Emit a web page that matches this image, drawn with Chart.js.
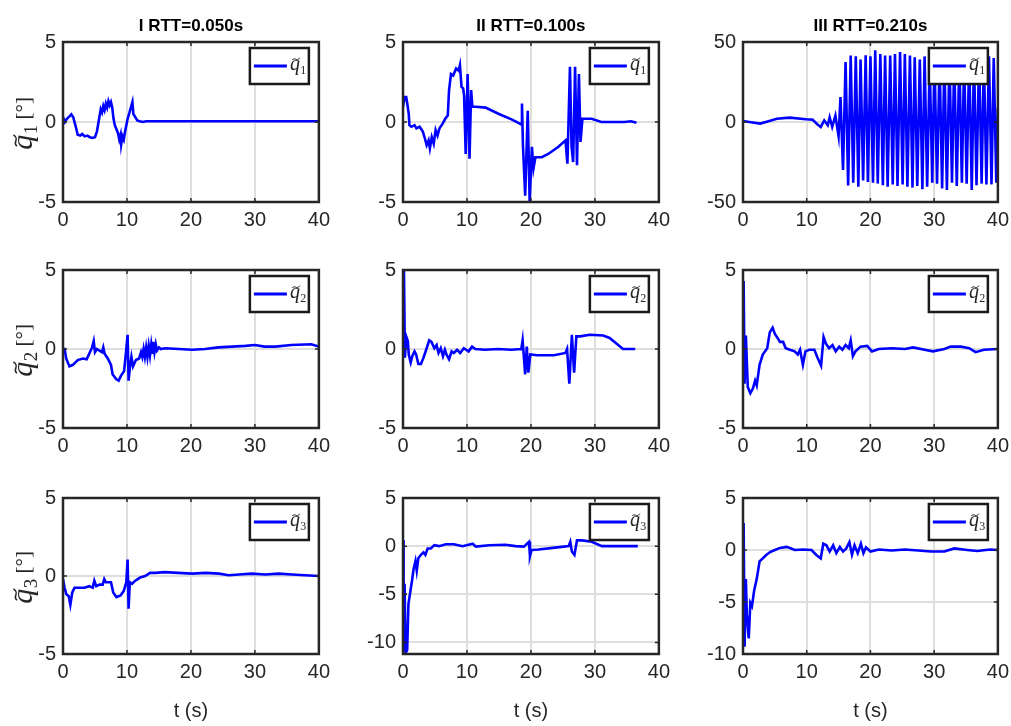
<!DOCTYPE html>
<html>
<head>
<meta charset="utf-8">
<script src="https://cdn.jsdelivr.net/npm/chart.js@4.4.1/dist/chart.umd.min.js"></script>
<style>
  body { margin: 0; background: #fff; }
  #wrap { position: relative; width: 1011px; height: 726px; overflow: hidden; }
  #wrap canvas { position: absolute; }
</style>
</head>
<body>
<div id="wrap"></div>
<script>
// column titles, one per RTT case
const titles = ['I RTT=0.050s', 'II RTT=0.100s', 'III RTT=0.210s'];
const xTicks = [0, 10, 20, 30, 40];
const yTicksSmall = [-5, 0, 5];
const yTicksBig = [-50, 0, 50];
const yTicksQ3 = [-10, -5, 0, 5];

// joint errors, [t (s), deg]
// RTT = 0.050 s
const q1_I = [[0,0.3],[0.3,0.0],[0.6,0.2],[1.0,0.35],[1.3,0.48],[1.6,0.3],[2.0,-0.3],[2.3,-0.8],[2.7,-0.85],[3.0,-0.75],[3.4,-0.9],[3.8,-0.85],[4.2,-0.95],[4.6,-1.0],[5.0,-0.95],[5.3,-0.6],[5.6,0.1],[5.9,0.8],[6.1,0.6],[6.3,1.0],[6.5,0.75],[6.7,1.15],[6.9,0.9],[7.1,1.3],[7.3,1.05],[7.5,1.25],[7.7,0.9],[7.9,0.2],[8.1,-0.2],[8.4,-0.5],[8.6,-0.7],[8.8,-1.1],[9.0,-0.8],[9.1,-1.4],[9.3,-0.9],[9.5,-1.1],[9.7,-0.6],[9.9,-0.2],[10.1,0.2],[10.4,0.6],[10.6,0.9],[10.85,1.25],[11.0,0.5],[11.3,0.3],[11.6,0.1],[12.0,0.05],[12.5,0.0],[13,0.05],[15,0.05],[20,0.05],[25,0.05],[30,0.05],[35,0.05],[40,0.05]];
const q2_I = [[0,0],[0.25,0],[0.5,-0.6],[1.0,-1.1],[1.55,-1.0],[2.3,-0.7],[3.1,-0.6],[3.7,-0.65],[4.1,-0.3],[4.55,0.1],[4.8,0.5],[5.0,-0.2],[5.3,0],[5.7,-0.1],[6.1,-0.2],[6.3,0.1],[6.5,-0.3],[7.0,-0.6],[7.5,-1.0],[7.75,-1.6],[8.3,-1.9],[8.7,-2.0],[9.05,-1.7],[9.55,-1.4],[9.85,-0.2],[10.1,0.9],[10.25,-2.0],[10.45,-1.2],[10.7,-0.5],[10.95,-1.1],[11.4,-0.7],[11.9,-0.6],[12.2,-0.2],[12.4,-0.5],[12.6,0.0],[12.8,-0.5],[13.0,0.1],[13.2,-0.5],[13.4,0.2],[13.6,-0.4],[13.8,0.3],[14.0,-0.3],[14.1,0.45],[14.3,-0.2],[14.5,0.3],[14.7,-0.1],[15.0,0.1],[15.3,0],[16,0.05],[18.1,0],[20.2,-0.05],[22.2,0],[24.3,0.1],[26.4,0.15],[28.5,0.2],[30,0.25],[31.5,0.15],[33.2,0.15],[35.7,0.25],[38.8,0.3],[40,0.15]];
const q3_I = [[0,-0.2],[0.25,-0.75],[0.5,-1.15],[0.9,-1.3],[1.15,-1.85],[1.45,-1.05],[1.8,-0.75],[2.6,-0.75],[3.35,-0.75],[4.1,-0.65],[4.65,-0.75],[4.9,-0.3],[5.2,-0.65],[5.7,-0.55],[6.2,-0.55],[6.45,-0.2],[6.7,-0.4],[7.5,-0.4],[7.85,-1.05],[8.35,-1.35],[9.0,-1.25],[9.5,-0.95],[9.9,-0.4],[10.1,1.05],[10.25,-2.1],[10.45,-0.4],[10.8,-0.5],[11.3,-0.3],[12.05,-0.1],[12.85,0],[13.6,0.2],[14.4,0.2],[15.9,0.25],[18,0.2],[20.2,0.15],[22.3,0.2],[24.4,0.15],[25.9,0.05],[27.5,0.1],[29.5,0.15],[31.6,0.1],[33.7,0.15],[35.8,0.1],[37.8,0.05],[40,0]];

// RTT = 0.100 s
const q1_II = [[0,0.94],[0.26,1.56],[0.5,1.56],[0.67,1.15],[0.9,0.5],[1.0,-0.2],[1.3,-0.3],[1.8,-0.2],[2.1,-0.4],[2.6,-0.3],[3.1,-0.6],[3.4,-1.0],[3.7,-1.45],[4.0,-1.15],[4.2,-1.65],[4.5,-0.95],[4.8,-1.35],[5.1,-0.5],[5.4,-0.85],[5.7,-0.4],[6.2,-0.1],[6.6,0.2],[7.0,0.4],[7.2,2.0],[7.5,3.0],[7.85,2.9],[8.3,3.35],[8.7,3.2],[8.9,3.55],[9.15,2.2],[9.4,2.1],[9.55,1.65],[9.8,-2.0],[10.1,3.0],[10.4,-2.3],[10.65,2.0],[10.85,0.95],[11.4,0.95],[12.9,0.9],[15.0,0.5],[17.05,0.15],[18.5,-0.15],[18.6,1.15],[18.75,-1.45],[19.1,-4.6],[19.5,0.7],[19.8,-5.0],[20.15,-1.55],[20.4,-2.9],[20.7,-2.2],[21.7,-2.2],[22.7,-2.0],[24.3,-1.55],[25.4,-1.15],[25.7,-2.6],[26.1,3.45],[26.35,-1.55],[26.6,-2.5],[26.9,3.45],[27.2,-2.7],[27.5,3.0],[27.75,-1.25],[28.05,0.2],[29.5,0.2],[31.0,0.0],[34.6,0.0],[35.65,0.05],[36.5,-0.05]];
const q2_II = [[0,-0.15],[0.15,5.0],[0.3,-0.55],[0.5,0.8],[0.75,0.5],[0.9,-0.35],[1.2,-0.85],[1.45,-0.45],[1.8,-0.15],[2.05,-0.35],[2.4,-0.95],[2.8,-0.95],[3.2,-0.55],[3.7,0.05],[4.1,0.55],[4.45,0.45],[4.9,0.05],[5.25,0.25],[5.55,-0.25],[5.9,0.05],[6.25,-0.45],[6.55,-0.05],[6.8,-0.35],[7.2,-0.65],[7.6,-0.15],[7.95,-0.25],[8.45,-0.05],[8.95,-0.25],[9.5,0.05],[10.25,-0.15],[10.8,0.15],[11.3,0],[12.8,-0.05],[14.9,0],[16.9,-0.05],[18.5,0],[18.7,0.55],[19.1,-1.6],[19.35,0.15],[19.6,-1.5],[19.9,-0.35],[21.0,-0.4],[23.6,-0.4],[25.4,-0.25],[25.65,0],[26.0,-2.2],[26.4,0.9],[26.75,-1.5],[27.1,0.8],[27.7,0.8],[29.2,0.9],[31.3,0.85],[32.3,0.7],[34.4,0.0],[36.3,0]];
const q3_II = [[0,0.6],[0.1,-11],[0.25,-3.9],[0.4,-11.1],[0.65,-10.8],[0.85,-6.0],[1.15,-4.7],[1.45,-3.4],[1.65,-2.4],[1.95,-1.55],[2.15,-2.55],[2.4,-1.25],[2.8,-0.9],[3.2,-0.65],[3.5,-0.9],[3.85,-0.25],[4.35,-0.25],[4.9,0.1],[5.65,0],[6.7,0.2],[7.95,0.2],[9.3,0],[10.9,0.25],[11.4,-0.05],[13.45,0.1],[16,0.15],[17.6,0],[18.9,-0.05],[19.7,0.45],[19.85,-1.05],[20.1,-0.4],[21.2,-0.35],[23.8,-0.15],[25.9,0],[26.15,0.45],[26.4,-0.55],[26.8,-0.9],[27.2,0.6],[28,0.6],[29.5,0.45],[31.1,0],[33.7,0],[36.7,0]];

// RTT = 0.210 s
const q1_III = [[0,0.6],[1,0],[2.7,-1],[4,0.5],[5.3,2],[7.3,2.7],[9.9,1.7],[10.9,1.5],[11.7,-1.5],[12.2,-3.1],[12.75,1],[13.3,-2],[13.6,3],[14.0,-3],[14.5,4],[15.0,-9],[15.3,15.6],[15.7,-30],[16.1,37.5],[16.5,-39.6],[16.9,41.5],[17.3,-38],[17.7,41],[18.1,-40.5],[18.45,39],[18.85,-36.5],[19.25,41.7],[19.6,-37.5],[20.0,41],[20.4,-38],[20.75,44.8],[21.15,-38.5],[21.55,42.5],[21.95,-39.5],[22.3,41.5],[22.7,-40.5],[23.1,41.5],[23.5,-39],[23.85,42.5],[24.25,-40],[24.65,43.8],[25.05,-39],[25.4,42.5],[25.8,-40.5],[26.2,41.5],[26.6,-41],[26.95,40.5],[27.35,-40],[27.75,39],[28.15,-42],[28.5,41],[28.9,-40.5],[29.3,38],[29.7,-38],[30.05,40],[30.45,-38.5],[30.85,39],[31.25,-41.5],[31.6,40],[32.0,-42.5],[32.4,41],[32.8,-38],[33.15,40],[33.55,-40],[33.95,41],[34.35,-38],[34.7,40],[35.1,-38.5],[35.5,41],[35.9,-42.5],[36.25,40],[36.65,-39.5],[37.05,41],[37.45,-38.5],[37.8,40],[38.2,-39],[38.6,41],[39.0,-39],[39.35,40],[39.75,-38],[40.0,9]];
const q2_III = [[0,-1.2],[0.1,4.3],[0.25,-2.2],[0.45,0.85],[0.75,-2.4],[1.15,-2.8],[1.55,-2.5],[1.9,-2.0],[2.15,-2.3],[2.6,-1.0],[3.1,-0.35],[3.8,0.05],[4.2,1.05],[4.65,1.35],[5.0,0.95],[5.35,0.75],[5.8,0.45],[6.3,0.45],[6.7,0.05],[7.35,-0.05],[8.1,-0.15],[8.6,-0.35],[8.95,-0.05],[9.4,-1.0],[9.8,-0.15],[10.4,-0.05],[11.2,-0.05],[11.7,-0.55],[12.25,-1.05],[12.65,0.75],[13.0,0.35],[13.5,0.05],[14.05,0.25],[14.55,-0.15],[15.1,0.15],[15.6,-0.05],[16.1,0.25],[16.6,0.05],[16.9,0.55],[17.25,-0.45],[17.65,-0.15],[18.45,0.15],[19.5,0.2],[20.25,-0.15],[21.3,0],[23.35,0.05],[25.4,0],[26.7,0.1],[28.5,-0.05],[29.8,-0.15],[31.6,0],[32.6,0.15],[34.2,0.15],[35.5,0.05],[36.5,-0.2],[37.8,-0.05],[40,0]];
const q3_III = [[0,0],[0.1,2.6],[0.25,-9.3],[0.45,-2.8],[0.6,-6.2],[0.9,-8.5],[1.15,-5.1],[1.4,-5.4],[1.75,-3.9],[2.15,-2.8],[2.6,-1.1],[3.1,-0.8],[3.6,-0.5],[4.25,-0.2],[5.0,0],[5.8,0.2],[6.85,0.3],[8.15,0],[9.45,0.05],[10.75,0],[11.55,-0.5],[12.2,-0.8],[12.6,0.6],[13.1,0.45],[13.6,-0.15],[14.15,0.45],[14.65,-0.3],[15.2,0.3],[15.7,-0.15],[16.2,0.15],[16.7,0.75],[17.1,-0.45],[17.5,0.45],[18,-0.3],[18.5,0.6],[18.9,-0.3],[19.3,0.25],[20,-0.15],[21.3,0.05],[23.35,-0.05],[25.4,0.05],[27.5,-0.05],[29.5,-0.15],[31.6,-0.15],[33.15,0.15],[35.2,0],[36.75,-0.1],[38.8,0.05],[40,0]];

const panels = [
  { row: 0, col: 0, data: q1_I,   joint: 1, yMin: -5,    yMax: 5,  yTicks: yTicksSmall },
  { row: 0, col: 1, data: q1_II,  joint: 1, yMin: -5,    yMax: 5,  yTicks: yTicksSmall },
  { row: 0, col: 2, data: q1_III, joint: 1, yMin: -50,   yMax: 50, yTicks: yTicksBig },
  { row: 1, col: 0, data: q2_I,   joint: 2, yMin: -5,    yMax: 5,  yTicks: yTicksSmall },
  { row: 1, col: 1, data: q2_II,  joint: 2, yMin: -5,    yMax: 5,  yTicks: yTicksSmall },
  { row: 1, col: 2, data: q2_III, joint: 2, yMin: -5,    yMax: 5,  yTicks: yTicksSmall },
  { row: 2, col: 0, data: q3_I,   joint: 3, yMin: -5,    yMax: 5,  yTicks: yTicksSmall },
  { row: 2, col: 1, data: q3_II,  joint: 3, yMin: -11.2, yMax: 5,  yTicks: yTicksQ3 },
  { row: 2, col: 2, data: q3_III, joint: 3, yMin: -10,   yMax: 5,  yTicks: yTicksQ3 }
];

// plot box edges in the page
const colLeft = [63, 403, 743];
const colRight = [322, 662, 1001];
const rowTop = [42, 265, 493];
const rowBottom = [202, 428, 654];

const FONT = '"Liberation Sans", Arial, Helvetica, sans-serif';
const SERIF = '"Liberation Serif", "DejaVu Serif", serif';
const INK = '#262626';
const BLUE = '#0000ff';
const SUBS = ['', '\u2081', '\u2082', '\u2083'];

// draws italic q with a tilde and a subscript, starting at x (baseline y)
function drawQ(ctx, x, y, size, idx) {
  ctx.font = 'italic ' + size + 'px ' + SERIF;
  const qw = ctx.measureText('q').width;
  ctx.fillText('q', x, y);
  ctx.font = Math.round(size * 0.62) + 'px ' + SERIF;
  ctx.fillText(String(idx), x + qw + size * 0.02, y + size * 0.18);
  const sw = ctx.measureText(String(idx)).width;
  // tilde
  const tx = x + qw * 0.25, ty = y - size * 0.56, tw = qw * 0.75, ta = size * 0.06;
  ctx.save();
  ctx.lineWidth = Math.max(1, size * 0.05);
  ctx.strokeStyle = ctx.fillStyle;
  ctx.beginPath();
  ctx.moveTo(tx, ty + ta);
  ctx.bezierCurveTo(tx + tw * 0.3, ty - ta * 2, tx + tw * 0.6, ty + ta * 3, tx + tw, ty - ta);
  ctx.stroke();
  ctx.restore();
  return qw + size * 0.02 + sw;
}

const matlabLook = {
  id: 'matlabLook',
  afterDatasetsDraw(chart, args, opts) {
    const ctx = chart.ctx;
    const a = chart.chartArea;
    const xs = chart.scales.x, ys = chart.scales.y;
    ctx.save();
    // inward tick marks
    ctx.strokeStyle = INK;
    ctx.lineWidth = 1.5;
    ctx.beginPath();
    xs.ticks.forEach(t => {
      const px = xs.getPixelForValue(t.value);
      ctx.moveTo(px, a.bottom); ctx.lineTo(px, a.bottom - 4);
      ctx.moveTo(px, a.top); ctx.lineTo(px, a.top + 4);
    });
    ys.ticks.forEach(t => {
      const py = ys.getPixelForValue(t.value);
      ctx.moveTo(a.left, py); ctx.lineTo(a.left + 4, py);
      ctx.moveTo(a.right, py); ctx.lineTo(a.right - 4, py);
    });
    ctx.stroke();
    // box
    ctx.lineWidth = 2.5;
    ctx.strokeRect(a.left, a.top, a.right - a.left, a.bottom - a.top);
    // legend
    const bw = 59, bh = 36;
    const bx = a.right - 10 - bw, by = a.top + 6;
    ctx.fillStyle = '#fff';
    ctx.fillRect(bx, by, bw, bh);
    ctx.lineWidth = 2.5;
    ctx.strokeStyle = '#1a1a1a';
    ctx.strokeRect(bx, by, bw, bh);
    ctx.strokeStyle = BLUE;
    ctx.lineWidth = 3;
    ctx.beginPath();
    ctx.moveTo(bx + 4, by + bh / 2);
    ctx.lineTo(bx + 37, by + bh / 2);
    ctx.stroke();
    ctx.fillStyle = INK;
    ctx.textBaseline = 'alphabetic';
    ctx.textAlign = 'left';
    drawQ(ctx, bx + 40, by + bh / 2 + 4, 20, opts.joint);
    // column title
    if (opts.title) {
      ctx.fillStyle = '#000';
      ctx.font = 'bold 17px ' + FONT;
      ctx.textAlign = 'center';
      ctx.fillText(opts.title, (a.left + a.right) / 2, a.top - 11);
    }
    // y label on the first column
    if (opts.yLabel) {
      ctx.translate(a.left - 31, (a.top + a.bottom) / 2);
      ctx.rotate(-Math.PI / 2);
      ctx.fillStyle = INK;
      ctx.textAlign = 'left';
      ctx.font = '21px ' + SERIF;
      const rest = ' [\u00b0]';
      const rw = ctx.measureText(rest).width;
      ctx.font = 'italic 30px ' + SERIF;
      const qw = ctx.measureText('q').width + 13;
      const start = -(qw + rw) / 2;
      const used = drawQ(ctx, start, 0, 30, opts.joint);
      ctx.font = '21px ' + SERIF;
      ctx.fillText(rest, start + used, -2);
    }
    ctx.restore();
  }
};

const wrap = document.getElementById('wrap');

panels.forEach(p => {
  const L = colLeft[p.col], R = colRight[p.col], T = rowTop[p.row], B = rowBottom[p.row];
  const padL = 62, padR = 14;
  const padT = p.row === 0 ? 42 : 14;
  const padB = p.row === 2 ? 72 : 38;
  const cv = document.createElement('canvas');
  cv.width = R - L + padL + padR;
  cv.height = B - T + padT + padB;
  cv.style.left = (L - padL) + 'px';
  cv.style.top = (T - padT) + 'px';
  wrap.appendChild(cv);

  new Chart(cv.getContext('2d'), {
    type: 'scatter',
    data: {
      datasets: [{
        label: 'q' + SUBS[p.joint],
        data: p.data.map(d => ({ x: d[0], y: d[1] })),
        showLine: true,
        borderColor: BLUE,
        borderWidth: 2.6,
        pointRadius: 0,
        tension: 0
      }]
    },
    options: {
      responsive: false,
      animation: false,
      devicePixelRatio: 1,
      layout: { padding: { left: padL - 50, right: padR, top: padT, bottom: 0 } },
      plugins: {
        legend: { display: false },
        tooltip: { enabled: false },
        matlabLook: {
          joint: p.joint,
          title: p.row === 0 ? titles[p.col] : null,
          yLabel: p.col === 0
        }
      },
      scales: {
        x: {
          type: 'linear',
          min: 0, max: 40,
          afterBuildTicks: s => { s.ticks = xTicks.map(v => ({ value: v })); },
          afterFit: s => { s.height = padB; },
          grid: { color: '#dedede', lineWidth: 2, drawTicks: false },
          border: { display: false },
          ticks: { color: INK, padding: 6, font: { family: FONT, size: 20 }, maxRotation: 0 },
          title: {
            display: p.row === 2,
            text: 't (s)',
            color: INK,
            font: { family: FONT, size: 20 },
            padding: { top: 0, bottom: 3 }
          }
        },
        y: {
          min: p.yMin, max: p.yMax,
          afterBuildTicks: s => { s.ticks = p.yTicks.map(v => ({ value: v })); },
          afterFit: s => { s.width = 50; },
          grid: { color: '#dedede', lineWidth: 2, drawTicks: false },
          border: { display: false },
          ticks: { color: INK, padding: 7, font: { family: FONT, size: 20 } }
        }
      }
    },
    plugins: [matlabLook]
  });
});
</script>
</body>
</html>
